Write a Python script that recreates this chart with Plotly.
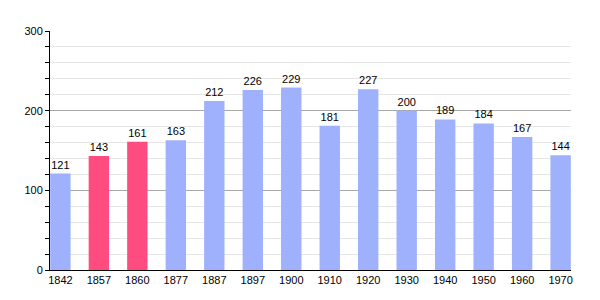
import plotly.graph_objects as go

years = ["1842", "1857", "1860", "1877", "1887", "1897", "1900", "1910", "1920", "1930", "1940", "1950", "1960", "1970"]
population = [121, 143, 161, 163, 212, 226, 229, 181, 227, 200, 189, 184, 167, 144]
highlight = ["1857", "1860"]

blue = "#9fb1fd"
pink = "#fe4c80"
colors = [pink if y in highlight else blue for y in years]

fig = go.Figure(go.Bar(
    x=list(range(len(years))), y=population,
    marker=dict(color=colors, line=dict(width=0)),
    width=0.53,
    text=[str(v) for v in population], textposition="outside",
    textfont=dict(family="Liberation Sans, Arial", size=11, color="#000"),
    cliponaxis=False,
))

fig.update_layout(
    width=600, height=300,
    margin=dict(l=50, r=29, t=31, b=30),
    plot_bgcolor="white", paper_bgcolor="white",
    showlegend=False,
    font=dict(family="Liberation Sans, Arial", size=11, color="#000"),
    xaxis=dict(
        tickmode="array", tickvals=list(range(len(years))), ticktext=years,
        range=[-0.27, 13.27], showgrid=False, zeroline=False,
        showline=True, linecolor="#000", linewidth=1, ticks="",
        tickfont=dict(size=11),
    ),
    yaxis=dict(
        range=[0, 300], tickvals=[0, 100, 200, 300],
        showgrid=True, gridcolor="#a8a8a8", gridwidth=1,
        zeroline=False, showline=True, linecolor="#000", linewidth=1,
        ticks="outside", ticklen=4, tickcolor="#000",
        tickfont=dict(size=11),
        minor=dict(dtick=20, showgrid=True, gridcolor="#e6e6e6", ticks="outside", ticklen=4, tickcolor="#000"),
    ),
)

fig.write_html("out.html")
